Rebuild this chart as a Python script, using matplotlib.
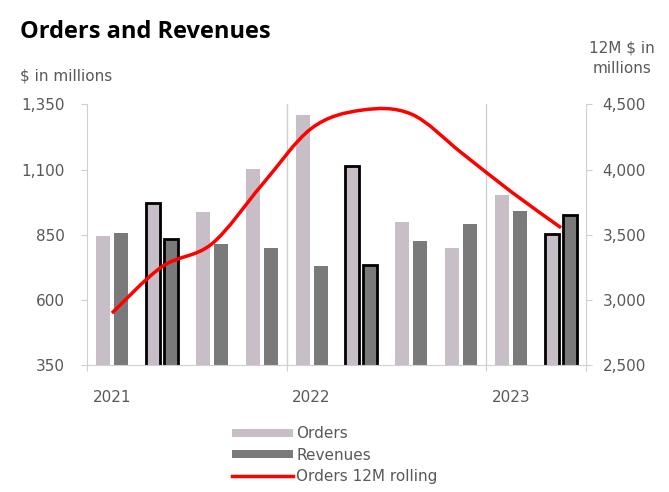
import matplotlib
matplotlib.use("Agg")
import matplotlib.pyplot as plt
import numpy as np
from matplotlib.path import Path
from matplotlib.patches import PathPatch, Patch
from matplotlib.lines import Line2D

plt.rcParams["font.family"] = ["DejaVu Sans"]

quarters = ["Q1 2021", "Q2 2021", "Q3 2021", "Q4 2021",
            "Q1 2022", "Q2 2022", "Q3 2022", "Q4 2022",
            "Q1 2023", "Q2 2023"]
orders = [845, 970, 936, 1101, 1309, 1114, 900, 801, 1001, 852]
revenues = [855, 833, 816, 801, 732, 735, 828, 893, 940, 925]
rolling = [2900, 3255, 3430, 3880, 4316, 4455, 4425, 4130, 3830, 3554]
highlight = [False, True, False, False, False, True, False, False, False, True]
year_labels = ["2021", "2022", "2023"]
year_pos = [0, 4, 8]
left_ticks = [350, 600, 850, 1100, 1350]
right_ticks = [2500, 3000, 3500, 4000, 4500]

c_orders = "#c8bec8"
c_rev = "#7b7a7b"
c_text = "#595959"
c_axis = "#d0d0d0"

fig = plt.figure(figsize=(6.69, 4.92), dpi=100)
ax = fig.add_axes([87/669, 1-365.3/492, (586-87)/669, (365.3-104.3)/492])
x = np.arange(len(quarters))
off = 0.18
w = 0.28
for i in x:
    lw = 2.0 if highlight[i] else 0
    ec = "black" if highlight[i] else "none"
    ax.bar(i - off, orders[i], width=w, bottom=0, color=c_orders, edgecolor=ec, linewidth=lw, zorder=2)
    ax.bar(i + off, revenues[i], width=w, bottom=0, color=c_rev, edgecolor=ec, linewidth=lw, zorder=2)

ax.set_xlim(-0.5, 9.5)
ax.set_ylim(350, 1350)
ax.set_yticks(left_ticks)
ax.set_yticklabels([f"{v:,}" for v in left_ticks])
ax.set_xticks([-0.5, 3.5, 7.5, 9.5])
ax.set_xticklabels([])
for xv in [3.5, 7.5]:
    ax.axvline(xv, color=c_axis, lw=1, zorder=1)
for s in ["top", "right"]:
    ax.spines[s].set_visible(False)
for s in ["left", "bottom"]:
    ax.spines[s].set_color(c_axis)
ax.tick_params(axis="y", colors=c_axis, labelcolor=c_text, labelsize=11, length=4, pad=12)
ax.tick_params(axis="x", colors=c_axis, length=4)
for xp, lab in zip(year_pos, year_labels):
    ax.text(xp, -0.125, lab, transform=ax.get_xaxis_transform(), ha="center", va="center",
            fontsize=11, color=c_text)

ax2 = ax.twinx()
ax2.set_ylim(2500, 4500)
ax2.set_yticks(right_ticks)
ax2.set_yticklabels([f"{v:,}" for v in right_ticks])
for s in ["top", "left", "bottom"]:
    ax2.spines[s].set_visible(False)
ax2.spines["right"].set_color(c_axis)
ax2.tick_params(axis="y", colors=c_axis, labelcolor=c_text, labelsize=11, length=4, pad=8)

# smooth line (Catmull-Rom style Bezier through the data points)
px = np.array(x, dtype=float)
py = np.array(rolling, dtype=float)
verts = [(px[0], py[0])]
codes = [Path.MOVETO]
t = 1/6
for i in range(len(px) - 1):
    p0 = (px[i-1], py[i-1]) if i > 0 else (px[i], py[i])
    p1 = (px[i], py[i]); p2 = (px[i+1], py[i+1])
    p3 = (px[i+2], py[i+2]) if i + 2 < len(px) else (px[i+1], py[i+1])
    c1 = (p1[0] + (p2[0]-p0[0])*t, p1[1] + (p2[1]-p0[1])*t)
    c2 = (p2[0] - (p3[0]-p1[0])*t, p2[1] - (p3[1]-p1[1])*t)
    verts += [c1, c2, p2]
    codes += [Path.CURVE4]*3
ax2.add_patch(PathPatch(Path(verts, codes), facecolor="none", edgecolor="#ff0000", lw=2.5, zorder=3))

fig.text(20/669, 1-32/492, "Orders and Revenues", fontsize=17, fontweight="bold",
         family="Open Sans", ha="left", va="center", color="black")
fig.text(20/669, 1-76/492, "$ in millions", fontsize=11, ha="left", va="center", color=c_text)
fig.text(622/669, 1-58/492, "12M $ in\nmillions", fontsize=11, ha="center", va="center",
         color=c_text, linespacing=1.45)

handles = [Patch(facecolor=c_orders, edgecolor="none"),
           Patch(facecolor=c_rev, edgecolor="none"),
           Line2D([0], [0], color="#ff0000", lw=2.5)]
fig.legend(handles, ["Orders", "Revenues", "Orders 12M rolling"], loc="center",
           bbox_to_anchor=(335/669, 1-455/492), frameon=False, fontsize=11,
           labelcolor=c_text, handlelength=4, handleheight=0.5, handletextpad=0.2,
           labelspacing=0.4)

fig.savefig("out.png", dpi=100)
